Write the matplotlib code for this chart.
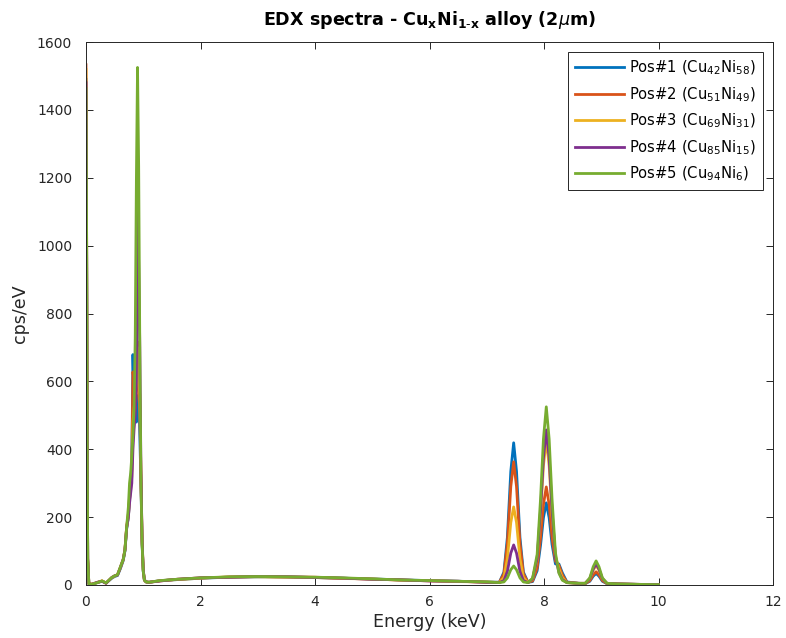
import matplotlib
matplotlib.use("Agg")
import matplotlib.pyplot as plt

# Energy grid (keV), denser around the emission lines
energy = [
    0, 0.01, 0.02, 0.03, 0.05, 0.1, 0.2, 0.28, 0.35, 0.45, 0.5, 0.55, 0.6, 0.65, 0.68, 0.71,
    0.74, 0.76, 0.78, 0.80, 0.82, 0.84, 0.86, 0.88, 0.90, 0.92, 0.94, 0.96, 0.98, 1.00, 1.02, 1.05, 1.10,
    1.3, 1.6, 2.0, 2.5, 3.0, 3.5, 4.0, 4.5, 5.0, 5.5, 6.0, 6.5, 7.0,
    7.22, 7.30, 7.36, 7.42, 7.47, 7.52, 7.58, 7.64, 7.72,
    7.80, 7.88, 7.94, 7.99, 8.04, 8.09, 8.14, 8.20, 8.26, 8.32, 8.40,
    8.60,
    8.72, 8.80, 8.86, 8.91, 8.96, 9.02, 9.10,
    9.3, 9.6, 10.0,
]

# Counts (cps/eV) for each measurement position
pos1 = [
    1490, 1050, 470, 75, 4, 2, 7, 11, 6, 20, 25, 28, 48, 72, 100, 165,
    200, 250, 300, 360, 679, 560, 620, 480, 520, 560, 440, 300, 120, 40, 14, 9, 8,
    13, 16, 20, 23, 24, 24, 22, 20, 18, 15, 13, 11, 9,
    8, 38, 140, 335, 419, 335, 140, 38, 8,
    10, 42, 118, 198, 242, 198, 120, 62, 62, 36, 9,
    5,
    4, 11, 26, 34, 26, 11, 4,
    3, 2, 1,
]
pos2 = [
    1533, 1090, 460, 80, 4, 2, 8, 12, 5, 22, 27, 30, 52, 76, 105, 172,
    210, 260, 290, 340, 628, 600, 520, 560, 717, 640, 520, 320, 130, 45, 14, 9, 8,
    12, 17, 21, 23, 25, 24, 23, 20, 17, 15, 12, 11, 8,
    8, 33, 122, 290, 363, 290, 122, 33, 8,
    12, 50, 140, 237, 289, 237, 140, 70, 58, 30, 8,
    5,
    4, 13, 30, 39, 30, 13, 4,
    3, 2, 1,
]
pos3 = [
    1519, 1085, 450, 78, 4, 3, 7, 12, 6, 21, 26, 30, 50, 74, 103, 170,
    200, 250, 280, 320, 480, 520, 560, 620, 700, 600, 560, 310, 125, 42, 14, 9, 8,
    13, 16, 20, 24, 24, 23, 22, 19, 18, 14, 13, 10, 9,
    7, 22, 78, 184, 230, 184, 78, 22, 7,
    17, 74, 208, 351, 428, 351, 208, 85, 48, 22, 7,
    5,
    5, 18, 44, 58, 44, 18, 5,
    3, 2, 1,
]
pos4 = [
    1480, 1080, 455, 76, 3, 2, 8, 11, 5, 22, 27, 29, 51, 75, 102, 168,
    200, 240, 270, 300, 400, 460, 500, 600, 1135, 950, 700, 330, 130, 44, 15, 9, 8,
    12, 17, 21, 23, 25, 24, 22, 20, 17, 15, 12, 11, 8,
    7, 13, 40, 94, 118, 94, 40, 13, 7,
    18, 78, 222, 375, 457, 375, 222, 82, 38, 16, 7,
    5,
    5, 19, 47, 62, 47, 19, 5,
    3, 2, 1,
]
pos5 = [
    1463, 1060, 440, 78, 3, 2, 7, 12, 6, 22, 27, 30, 53, 75, 103, 171,
    230, 300, 330, 380, 440, 520, 729, 1194, 1525, 1233, 699, 300, 120, 40, 15, 9, 8,
    13, 17, 21, 24, 25, 24, 23, 21, 18, 15, 13, 11, 9,
    7, 9, 21, 45, 56, 45, 21, 9, 7,
    20, 90, 255, 430, 525, 430, 255, 95, 35, 14, 7,
    5,
    5, 21, 54, 71, 54, 21, 5,
    3, 2, 1,
]

labels = [
    r"Pos#1 (Cu$_{42}$Ni$_{58}$)",
    r"Pos#2 (Cu$_{51}$Ni$_{49}$)",
    r"Pos#3 (Cu$_{69}$Ni$_{31}$)",
    r"Pos#4 (Cu$_{85}$Ni$_{15}$)",
    r"Pos#5 (Cu$_{94}$Ni$_{6}$)",
]
colors = ["#0072BD", "#D95319", "#EDB120", "#7E2F8E", "#77AC30"]

x_ticks = [0, 2, 4, 6, 8, 10, 12]
y_ticks = [0, 200, 400, 600, 800, 1000, 1200, 1400, 1600]

plt.rcParams["font.family"] = ["DejaVu Sans"]
plt.rcParams["mathtext.fontset"] = "dejavusans"

fig = plt.figure(figsize=(7.86, 6.38), dpi=100)
fig.patch.set_facecolor("white")
ax = fig.add_axes([86 / 786, 53 / 638, 687 / 786, 543 / 638])

for series, lab, col in zip([pos1, pos2, pos3, pos4, pos5], labels, colors):
    ax.plot(energy, series, color=col, linewidth=2.0, label=lab)

ax.set_xlim(0, 12)
ax.set_ylim(0, 1600)
ax.set_xticks(x_ticks)
ax.set_yticks(y_ticks)

axis_gray = "#262626"
for sp in ax.spines.values():
    sp.set_color(axis_gray)
    sp.set_linewidth(0.7)
ax.tick_params(direction="in", length=5, width=0.7, colors=axis_gray,
               labelsize=10, top=True, right=True)
ax.tick_params(axis="x", pad=7)
ax.tick_params(axis="y", pad=10)

ax.set_xlabel("Energy (keV)", fontsize=12.6, color=axis_gray, labelpad=3)
ax.set_ylabel("cps/eV", fontsize=12.6, color=axis_gray, labelpad=6)
ax.set_title(r"EDX spectra - Cu$_{\mathbf{x}}$Ni$_{\mathbf{1\text{-}x}}$ alloy (2$\mu$m)",
             fontsize=12.6, fontweight="bold", color="black", pad=12)

leg = ax.legend(loc="upper right", fontsize=10.6, frameon=True, fancybox=False,
                edgecolor=axis_gray, framealpha=1.0, handlelength=3.3,
                borderaxespad=0.7, labelspacing=0.55, handletextpad=0.4,
                borderpad=0.45)
leg.get_frame().set_linewidth(0.7)

fig.savefig("out.png", dpi=100, facecolor="white")
